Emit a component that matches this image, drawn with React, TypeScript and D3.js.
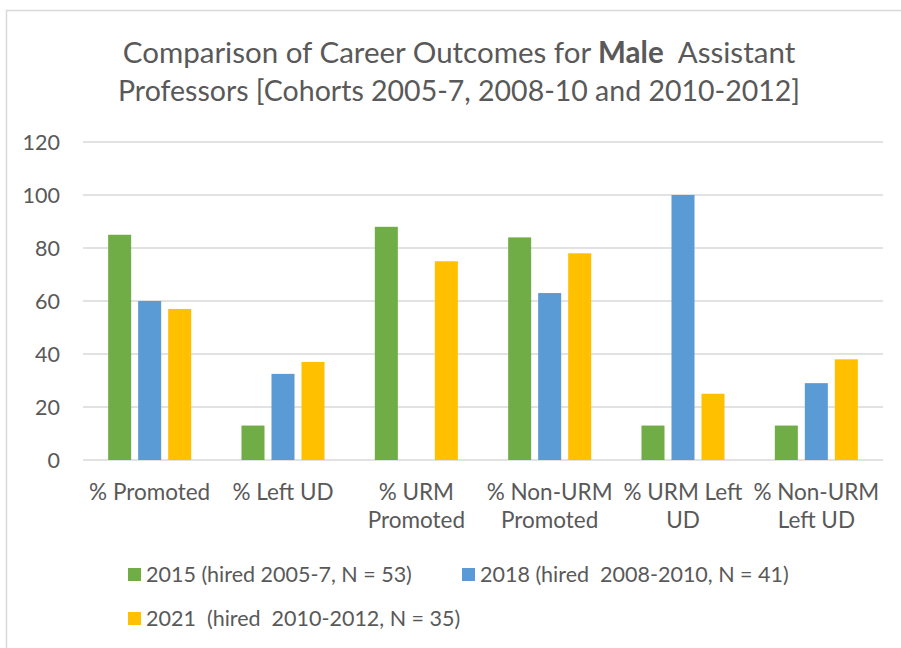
import React from 'react';
import * as d3 from 'd3';

// categories (each entry = lines of the axis label)
const categories = ['promoted', 'leftUD', 'urmPromoted', 'nonUrmPromoted', 'urmLeftUD', 'nonUrmLeftUD'];
const categoryLabels = [
  ['% Promoted'],
  ['% Left UD'],
  ['% URM', 'Promoted'],
  ['% Non-URM', 'Promoted'],
  ['% URM Left', 'UD'],
  ['% Non-URM', 'Left UD'],
];

const seriesNames = [
  '2015 (hired 2005-7, N = 53)',
  '2018 (hired  2008-2010, N = 41)',
  '2021  (hired  2010-2012, N = 35)',
];
const values2015 = [85, 13, 88, 84, 13, 13];
const values2018 = [60, 32.5, 0, 63, 100, 29];
const values2021 = [57, 37, 75, 78, 25, 38];
const seriesValues = [values2015, values2018, values2021];

const yTicks = [0, 20, 40, 60, 80, 100, 120];

export default function App() {
  const width = 901;
  const height = 648;
  const colors = ['#70ad47', '#5b9bd5', '#ffc000'];
  const textColor = '#595959';
  const font = 'Lato, "Open Sans", sans-serif';

  const y = d3.scaleLinear().domain([0, 120]).range([460, 142]);
  const x0 = d3.scaleBand<string>().domain(categories).range([83, 883]);
  const x1 = d3.scaleBand<number>()
    .domain(d3.range(seriesValues.length))
    .range([0, x0.bandwidth()])
    .paddingInner(0.233)
    .paddingOuter(0.838);

  const legendPos = [
    { x: 128, y: 568 },
    { x: 462, y: 568 },
    { x: 128, y: 612 },
  ];

  return (
    <svg width={width} height={height}
         style={{ position: 'absolute', left: 0, top: 0, display: 'block', background: '#fff' }}
         fontFamily={font}>
      <rect x={6.5} y={10.5} width={width} height={height} fill="#fff" stroke="#d9d9d9" strokeWidth={1.5}/>

      <text x={459} y={63} textAnchor="middle" fontSize={29.5} fill={textColor} style={{ whiteSpace: 'pre' }}>
        Comparison of Career Outcomes for <tspan fontWeight="bold">Male</tspan>  Assistant
      </text>
      <text x={459} y={101} textAnchor="middle" fontSize={28.5} fill={textColor}>
        Professors [Cohorts 2005-7, 2008-10 and 2010-2012]
      </text>

      {yTicks.map(t => (
        <g key={t}>
          <line x1={83} x2={883} y1={y(t)} y2={y(t)} stroke="#d9d9d9" strokeWidth={1.3}/>
          <text x={60} y={y(t)} dy="0.35em" textAnchor="end" fontSize={21.5} fill={textColor}>{t}</text>
        </g>
      ))}

      {categories.map((c, ci) => (
        <g key={c} transform={'translate(' + x0(c) + ',0)'}>
          {seriesValues.map((vals, si) => (
            <rect key={si}
                  x={x1(si)}
                  y={y(vals[ci])}
                  width={x1.bandwidth()}
                  height={y(0) - y(vals[ci])}
                  fill={colors[si]}/>
          ))}
          {categoryLabels[ci].map((line, li) => (
            <text key={li} x={x0.bandwidth() / 2} y={500 + li * 28}
                  textAnchor="middle" fontSize={22.5} fill={textColor}>{line}</text>
          ))}
        </g>
      ))}

      {seriesNames.map((name, i) => (
        <g key={name} transform={'translate(' + legendPos[i].x + ',' + legendPos[i].y + ')'}>
          <rect width={13} height={13} fill={colors[i]}/>
          <text x={18} y={6.5} dy="0.36em" fontSize={21.5} fill={textColor} style={{ whiteSpace: 'pre' }}>{name}</text>
        </g>
      ))}
    </svg>
  );
}
